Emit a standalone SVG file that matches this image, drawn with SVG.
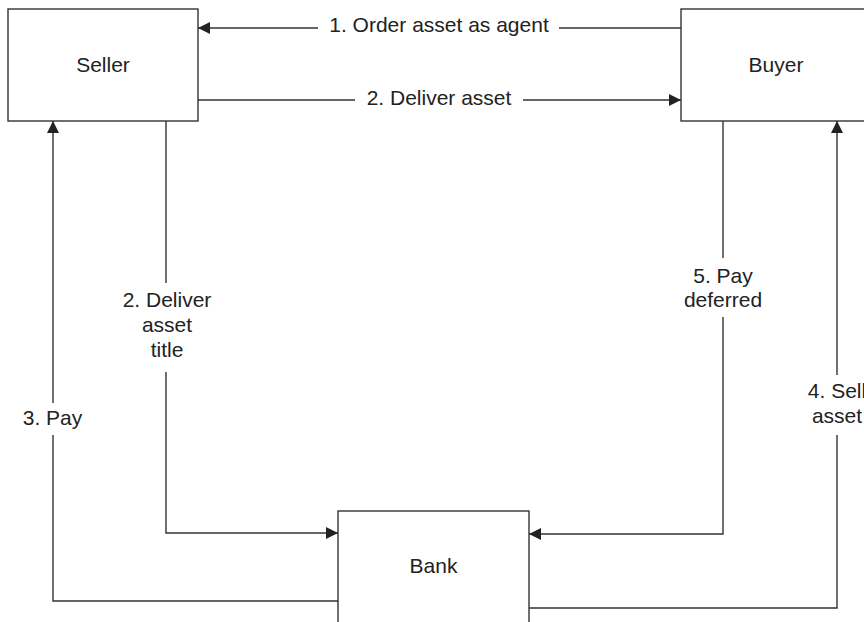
<svg xmlns="http://www.w3.org/2000/svg" width="864" height="622" viewBox="0 0 864 622">
  <style>
    .box { fill: #ffffff; stroke: #333333; stroke-width: 1.4; }
    .line { fill: none; stroke: #333333; stroke-width: 1.4; }
    .lbl { font-family: "Liberation Sans", Arial, sans-serif; font-size: 21px; fill: #222222; text-anchor: middle; }
  </style>
  <defs>
    <marker id="arrow" viewBox="0 0 12 12" refX="12" refY="6" markerWidth="12" markerHeight="12" markerUnits="userSpaceOnUse" orient="auto">
      <path d="M0,0 L12,6 L0,12 Z" fill="#222222"/>
    </marker>
  </defs>

  <rect width="864" height="622" fill="#ffffff"/>

  <!-- nodes -->
  <g id="seller">
    <rect class="box" x="8" y="9" width="190" height="112"/>
    <text class="lbl" x="103" y="72">Seller</text>
  </g>
  <g id="buyer">
    <rect class="box" x="681" y="9" width="190" height="112"/>
    <text class="lbl" x="776" y="72">Buyer</text>
  </g>
  <g id="bank">
    <rect class="box" x="338" y="511" width="191" height="120"/>
    <text class="lbl" x="433.5" y="573">Bank</text>
  </g>

  <!-- connectors -->
  <g id="connectors">
    <!-- 1. Order asset as agent: Buyer to Seller -->
    <line class="line" x1="681" y1="28" x2="559" y2="28"/>
    <line class="line" x1="318" y1="28" x2="198" y2="28" marker-end="url(#arrow)"/>
    <text class="lbl" x="439" y="32">1. Order asset as agent</text>

    <!-- 2. Deliver asset: Seller to Buyer -->
    <line class="line" x1="198" y1="100" x2="355" y2="100"/>
    <line class="line" x1="523" y1="100" x2="681" y2="100" marker-end="url(#arrow)"/>
    <text class="lbl" x="439" y="105">2. Deliver asset</text>

    <!-- 2. Deliver asset title: Seller to Bank -->
    <line class="line" x1="166" y1="121" x2="166" y2="283"/>
    <polyline class="line" points="166,372 166,533 338,533" marker-end="url(#arrow)"/>
    <text class="lbl" x="167" y="307">2. Deliver</text>
    <text class="lbl" x="167" y="332">asset</text>
    <text class="lbl" x="167" y="357">title</text>

    <!-- 3. Pay: Bank to Seller -->
    <polyline class="line" points="338,601 53,601 53,435"/>
    <line class="line" x1="53" y1="403" x2="53" y2="121" marker-end="url(#arrow)"/>
    <text class="lbl" x="52.5" y="425">3. Pay</text>

    <!-- 5. Pay deferred: Buyer to Bank -->
    <line class="line" x1="723" y1="121" x2="723" y2="258"/>
    <polyline class="line" points="723,317 723,534 529,534" marker-end="url(#arrow)"/>
    <text class="lbl" x="723" y="283">5. Pay</text>
    <text class="lbl" x="723" y="307">deferred</text>

    <!-- 4. Sell asset: Bank to Buyer -->
    <polyline class="line" points="529,608 837,608 837,435"/>
    <line class="line" x1="837" y1="375" x2="837" y2="121" marker-end="url(#arrow)"/>
    <text class="lbl" x="837" y="398">4. Sell</text>
    <text class="lbl" x="837" y="423">asset</text>
  </g>
</svg>
